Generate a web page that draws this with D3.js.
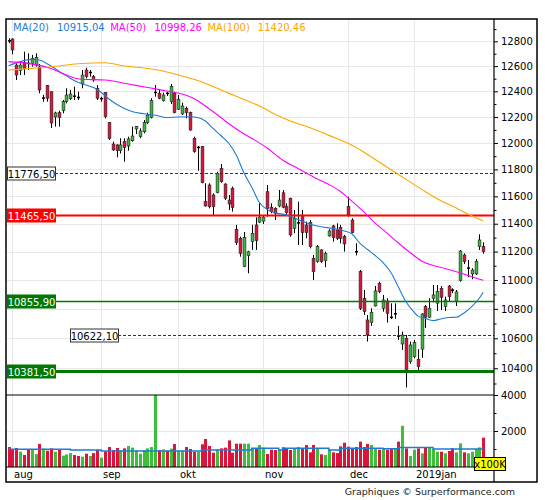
<!DOCTYPE html>
<html>
<head>
<meta charset="utf-8">
<script src="https://cdn.jsdelivr.net/npm/d3@7"></script>
<style>
  body { margin: 0; background: #fff; }
  svg { display: block; }
  text { font-family: "DejaVu Sans", Verdana, sans-serif; }
</style>
</head>
<body>
<svg id="chart" width="545" height="500"></svg>
<script>

// daily candles, 31 jul 2018 .. 28 jan 2019 (index 0..123)
var open_vals = [12806,12819,12609,12564,12628,12624,12623,12609,12593,12345,12445,12397,12200,12233,12249,12319,12342,12364,12354,12458,
  12569,12547,12516,12424,12341,12390,12156,11992,11985,11942,12010,11977,12017,12107,12048,12086,12156,12197,12389,12385,
  12327,12386,12319,12385,12260,12223,12267,12233,12036,11964,11972,11561,11684,11610,11627,11808,11691,11573,11660,11360,
  11295,11094,11171,11271,11391,11412,11419,11634,11520,11512,11529,11626,11524,11586,11367,11404,11451,11391,11408,11152,
  11129,11212,11136,11312,11384,11355,11374,11307,11524,11427,11201,11058,10873,10724,10706,10820,10977,10804,10854,10744,
  10764,10617,10562,10600,10444,10477,10460,10527,10815,10743,10873,10839,10942,10815,10958,10931,10850,10995,11176,11081,
  11042,11042,11235,11235];
var high_vals = [12825,12825,12623,12623,12716,12703,12690,12703,12617,12372,12450,12400,12241,12249,12332,12424,12411,12437,12397,12569,
  12588,12569,12529,12450,12358,12395,12160,12010,11990,12036,12036,12048,12125,12130,12112,12176,12233,12346,12450,12416,
  12390,12397,12458,12397,12371,12311,12280,12241,12048,11977,11977,11697,11697,11622,11783,11841,11697,11610,11672,11392,
  11307,11340,11206,11392,11446,11549,11456,11684,11549,11520,11647,11647,11549,11590,11500,11561,11500,11415,11427,11176,
  11247,11216,11200,11360,11392,11403,11392,11319,11597,11440,11259,11070,10930,10758,10804,10958,10988,10896,10873,10838,
  10838,10683,10645,10622,10578,10589,10527,10770,10827,10873,10965,10965,10958,10884,10965,10942,10930,11212,11188,11141,
  11082,11148,11324,11266];
var low_vals = [12785,12695,12490,12529,12529,12569,12596,12596,12385,12319,12319,12115,12125,12125,12228,12306,12332,12332,12332,12424,
  12503,12516,12476,12332,12319,12189,12023,11940,11891,11920,11858,11941,12010,12068,12036,12074,12145,12189,12358,12338,
  12319,12363,12301,12228,12254,12215,12189,12094,11926,11791,11697,11524,11512,11464,11622,11701,11573,11500,11488,11247,
  11164,11090,11047,11212,11212,11405,11398,11451,11476,11427,11520,11512,11464,11307,11331,11247,11247,11295,11223,11000,
  11121,11121,11090,11307,11271,11283,11259,11200,11451,11331,11173,10792,10759,10578,10684,10816,10908,10781,10706,10730,
  10732,10589,10522,10274,10430,10466,10384,10469,10670,10738,10844,10785,10792,10785,10850,10908,10820,10988,11112,11019,
  11005,11035,11212,11185];
var close_vals = [12804,12730,12529,12609,12583,12622,12663,12671,12411,12347,12346,12153,12231,12197,12319,12371,12379,12362,12352,12529,
  12516,12549,12490,12346,12343,12202,12036,11947,11942,11985,11967,12031,12053,12125,12092,12156,12215,12327,12391,12346,
  12371,12384,12437,12233,12338,12285,12233,12099,11934,11966,11701,11529,11524,11524,11771,11709,11586,11544,11519,11264,
  11188,11302,11199,11331,11278,11448,11448,11512,11488,11476,11573,11520,11481,11319,11440,11406,11336,11336,11235,11058,
  11235,11129,11188,11348,11300,11295,11295,11255,11464,11336,11199,10804,10781,10622,10777,10924,10919,10861,10770,10742,
  10766,10615,10622,10378,10555,10571,10411,10765,10743,10804,10896,10919,10880,10861,10884,10929,10917,11204,11129,11083,
  11070,11129,11283,11200];

// volume in units of 100K
var volume_vals = [1110,1000,1055,850,665,945,980,720,1275,1020,905,1035,850,960,630,700,775,665,610,575,
  740,610,775,960,520,870,1110,945,1055,925,1035,1165,1075,925,740,945,1035,1110,4000,945,
  980,905,1020,1275,905,905,1110,1000,850,850,1260,1555,1165,795,980,1035,1075,1480,795,1295,
  1295,1295,1295,1055,1055,1220,1075,720,960,945,945,1090,1055,945,1035,1110,1055,1220,815,1220,
  1000,705,665,960,815,775,1145,1350,1130,1035,1110,1410,1110,1280,1220,1000,960,1000,960,1000,
  1035,1410,2290,1035,610,960,1035,760,1110,1075,1000,850,850,760,890,1035,815,1315,815,760,
  850,1000,1090,1630];

// volume average (step line), [day index, value]
var vol_avg = [[0,980],[16,945],[24,890],[50,945],[63,1035],[70,945],[71,1035],[83,945],[86,1035],
  [97,1020],[101,1090],[110,1000],[123,1000]];

// moving averages, [day index, value]
var ma20 = [[0,12603],[3,12636],[6,12654],[8,12649],[10,12620],[12,12581],[14,12541],[17,12486],[20,12450],
  [23,12415],[26,12340],[29,12281],[32,12243],[35,12225],[38,12213],[41,12196],[44,12200],[47,12201],[49,12196],
  [51,12169],[53,12111],[55,12057],[57,12000],[59,11909],[61,11774],[63,11669],[65,11555],[67,11504],[69,11480],
  [72,11464],[75,11431],[78,11398],[81,11378],[84,11366],[87,11348],[89,11326],[91,11261],[93,11215],[95,11172],
  [97,11123],[99,11056],[101,10951],[103,10847],[105,10779],[106,10752],[108,10735],[110,10720],[112,10731],
  [114,10741],[116,10743],[118,10772],[120,10816],[122,10875],[123,10915.04]];
var ma50 = [[0,12636],[5,12622],[11,12582],[15,12529],[19,12495],[25,12490],[31,12458],[36,12430],[41,12403],
  [45,12379],[48,12344],[51,12285],[54,12219],[57,12149],[60,12088],[63,12036],[67,11962],[71,11871],[75,11807],
  [79,11744],[83,11688],[86,11636],[89,11563],[92,11488],[95,11405],[98,11334],[101,11261],[104,11194],[107,11134],
  [110,11102],[113,11081],[116,11058],[119,11032],[121,11014],[123,10998.26]];
var ma100 = [[0,12569],[6,12582],[12,12599],[19,12621],[25,12627],[30,12601],[35,12585],[40,12561],[45,12521],
  [49,12486],[53,12438],[57,12386],[61,12336],[65,12285],[70,12207],[73,12169],[78,12119],[83,12058],[88,11997],
  [92,11932],[96,11856],[100,11781],[104,11707],[108,11634],[112,11568],[116,11515],[119,11470],[121,11445],
  [123,11420.46]];

var ma_names = ["MA(20)", "MA(50)", "MA(100)"];
var ma_last = [10915.04, 10998.26, 11420.46];

// horizontal levels
var level_vals = [11776.5, 11465.5, 10855.9, 10622.1, 10381.5];

// axis ticks
var price_ticks = [10400,10600,10800,11000,11200,11400,11600,11800,12000,12200,12400,12600,12800];
var price_minor = [10300,10500,10700,10900,11100,11300,11500,11700,11900,12100,12300,12500,12700,12900];
var vol_ticks = [2000, 4000];
var vol_minor = [1000, 3000];
var month_labels = ["aug", "sep", "okt", "nov", "dec", "2019jan"];
var month_start = [1, 24, 44, 66, 88, 105];

// ---------------------------------------------------------------

var svg = d3.select("#chart");
var L = 6, T = 19, R = 537, B = 482, AX = 494, PB = 395, VB = 467;
var n = close_vals.length;
var idx = d3.range(n);

var fr = d3.formatLocale({decimal: ",", thousands: ".", grouping: [3], currency: ["", ""]});
var fmt2 = fr.format(".2f");

var x = d3.scaleLinear().domain([0, n - 1]).range([8.5, 483.3]);
var y = d3.scaleLog().domain([10225, 12983]).range([PB, T]);
var yv = d3.scaleLinear().domain([0, 4000]).range([VB, PB]);

var RED = "#dc143c", GREEN = "#3cb83c", BLUE = "#1c7cd5";
var ma_colors = [BLUE, "#ff00ff", "#ffa500"];
var GRID = "#e8e8e8";

function px(i) { return Math.round(x(i)); }
function up(i) { return close_vals[i] >= open_vals[i]; }

var defs = svg.append("defs");
defs.append("clipPath").attr("id", "clipP")
  .append("rect").attr("x", L).attr("y", T).attr("width", AX - L).attr("height", PB - T);
defs.append("clipPath").attr("id", "clipV")
  .append("rect").attr("x", L).attr("y", PB).attr("width", AX - L).attr("height", VB - PB);

// grid
var grid = svg.append("g");
grid.selectAll("line.hp").data(price_ticks).enter().append("line")
  .attr("x1", L).attr("x2", AX)
  .attr("y1", function(d) { return Math.round(y(d)) + 0.5; })
  .attr("y2", function(d) { return Math.round(y(d)) + 0.5; })
  .attr("stroke", GRID);
grid.selectAll("line.hv").data([2000]).enter().append("line")
  .attr("x1", L).attr("x2", AX)
  .attr("y1", function(d) { return Math.round(yv(d)) + 0.5; })
  .attr("y2", function(d) { return Math.round(yv(d)) + 0.5; })
  .attr("stroke", GRID);
grid.selectAll("line.vm").data(month_start).enter().append("line")
  .attr("x1", function(d) { return px(d) + 0.5; })
  .attr("x2", function(d) { return px(d) + 0.5; })
  .attr("y1", T).attr("y2", VB)
  .attr("stroke", GRID);

// candles
var cg = svg.append("g").attr("clip-path", "url(#clipP)");
cg.selectAll("line.wick").data(idx).enter().append("line")
  .attr("x1", function(i) { return px(i) + 0.5; })
  .attr("x2", function(i) { return px(i) + 0.5; })
  .attr("y1", function(i) { return y(high_vals[i]); })
  .attr("y2", function(i) { return y(low_vals[i]); })
  .attr("stroke", "#000").attr("stroke-width", 1);

var doji = idx.filter(function(i) { return Math.abs(y(open_vals[i]) - y(close_vals[i])) < 1; });
var bodies = idx.filter(function(i) { return doji.indexOf(i) < 0; });

cg.selectAll("rect.body").data(bodies).enter().append("rect")
  .attr("x", function(i) { return px(i) - 0.9; })
  .attr("width", 2.8)
  .attr("y", function(i) { return Math.min(y(open_vals[i]), y(close_vals[i])); })
  .attr("height", function(i) { return Math.abs(y(open_vals[i]) - y(close_vals[i])); })
  .attr("fill", function(i) { return up(i) ? GREEN : RED; })
  .attr("stroke", "#222").attr("stroke-width", 0.6);

cg.selectAll("line.doji").data(doji).enter().append("line")
  .attr("x1", function(i) { return px(i) - 1; })
  .attr("x2", function(i) { return px(i) + 2; })
  .attr("y1", function(i) { return y(close_vals[i]); })
  .attr("y2", function(i) { return y(close_vals[i]); })
  .attr("stroke", "#000").attr("stroke-width", 1.5);

// volume
var vg = svg.append("g").attr("clip-path", "url(#clipV)");
vg.selectAll("rect").data(idx).enter().append("rect")
  .attr("x", function(i) { return px(i) - 1; })
  .attr("width", 3)
  .attr("y", function(i) { return yv(volume_vals[i]); })
  .attr("height", function(i) { return VB - yv(volume_vals[i]); })
  .attr("fill", function(i) { return up(i) ? "#3cc03c" : RED; });

vg.append("path").datum(vol_avg)
  .attr("d", d3.line().x(function(d) { return x(d[0]); })
    .y(function(d) { return yv(d[1]); }).curve(d3.curveStepAfter))
  .attr("fill", "none").attr("stroke", BLUE).attr("stroke-width", 1.5);

// levels
var lg = svg.append("g").attr("clip-path", "url(#clipP)");
var level_style = [
  {stroke: "#333", width: 1, dash: "3,2", box: "#fff", border: "#333", text: "#000", bx: 7},
  {stroke: "#ff0000", width: 2, dash: null, box: "#ff0000", border: "#ff0000", text: "#fff", bx: 7},
  {stroke: "#007800", width: 1.5, dash: null, box: "#007800", border: "#007800", text: "#fff", bx: 7},
  {stroke: "#333", width: 1, dash: "3,2", box: "#fff", border: "#333", text: "#000", bx: 70},
  {stroke: "#007800", width: 3, dash: null, box: "#007800", border: "#007800", text: "#fff", bx: 7}
];
level_vals.forEach(function(v, k) {
  var s = level_style[k], yy = Math.round(y(v)) + 0.5;
  lg.append("line")
    .attr("x1", s.bx + 48).attr("x2", AX)
    .attr("y1", yy).attr("y2", yy)
    .attr("stroke", s.stroke).attr("stroke-width", s.width)
    .attr("stroke-dasharray", s.dash);
});

// moving averages
var maLine = d3.line()
  .x(function(d) { return x(d[0]); })
  .y(function(d) { return y(d[1]); })
  .curve(d3.curveMonotoneX);
var mg = svg.append("g").attr("clip-path", "url(#clipP)");
[ma20, ma50, ma100].forEach(function(series, k) {
  mg.append("path").datum(series)
    .attr("d", maLine)
    .attr("fill", "none")
    .attr("stroke", ma_colors[k])
    .attr("stroke-width", 1.1);
});

// level label boxes
level_vals.forEach(function(v, k) {
  var s = level_style[k], yy = Math.round(y(v)) + 0.5;
  var g = svg.append("g");
  g.append("rect")
    .attr("x", s.bx + 0.5).attr("y", yy - 6.5)
    .attr("width", 48).attr("height", 13)
    .attr("fill", s.box).attr("stroke", s.border).attr("stroke-width", 1);
  g.append("text")
    .attr("x", s.bx + 24.5).attr("y", yy + 4)
    .attr("text-anchor", "middle")
    .attr("font-size", 10)
    .attr("fill", s.text)
    .text(fmt2(v));
});

// right axes
function styleAxis(g) {
  g.select(".domain").remove();
  g.attr("font-family", "DejaVu Sans, Verdana, sans-serif").attr("font-size", 10);
  g.selectAll("text").attr("fill", "#000");
  g.selectAll("line").attr("stroke", "#000");
}
svg.append("g").attr("transform", "translate(" + AX + ",0)")
  .call(d3.axisRight(y).tickValues(price_ticks).tickSize(4).tickPadding(3).tickFormat(d3.format("d")))
  .call(styleAxis);
svg.append("g").attr("transform", "translate(" + AX + ",0)")
  .call(d3.axisRight(y).tickValues(price_minor).tickSize(2.5).tickFormat(""))
  .call(styleAxis);
svg.append("g").attr("transform", "translate(" + AX + ",0)")
  .call(d3.axisRight(yv).tickValues(vol_ticks).tickSize(4).tickPadding(3).tickFormat(d3.format("d")))
  .call(styleAxis);
svg.append("g").attr("transform", "translate(" + AX + ",0)")
  .call(d3.axisRight(yv).tickValues(vol_minor).tickSize(2.5).tickFormat(""))
  .call(styleAxis);

// frame
var fg = svg.append("g").attr("stroke", "#000").attr("fill", "none");
fg.append("rect").attr("x", L).attr("y", T).attr("width", R - L).attr("height", B - T).attr("stroke-width", 1.5);
fg.append("line").attr("x1", AX).attr("x2", AX).attr("y1", T).attr("y2", B).attr("stroke-width", 1.2);
fg.append("line").attr("x1", L).attr("x2", AX).attr("y1", PB).attr("y2", PB).attr("stroke-width", 1.2);
fg.append("line").attr("x1", L).attr("x2", AX).attr("y1", VB).attr("y2", VB).attr("stroke-width", 1.2);

// month labels
svg.selectAll("text.month").data(month_start).enter().append("text")
  .attr("x", function(d) { return px(d) + 2; })
  .attr("y", 478)
  .attr("font-size", 10)
  .attr("fill", "#000")
  .text(function(d, k) { return month_labels[k]; });

// x100K tag
svg.append("rect").attr("x", 474.5).attr("y", 457.5).attr("width", 31).attr("height", 13)
  .attr("fill", "#ffff00").attr("stroke", "#000").attr("stroke-width", 1);
svg.append("text").attr("x", 490).attr("y", 468).attr("text-anchor", "middle")
  .attr("font-size", 10).attr("fill", "#000").text("x100K");

// legend
var lx = 13;
ma_names.forEach(function(name, k) {
  var t1 = svg.append("text").attr("x", lx).attr("y", 30.5)
    .attr("font-size", 10).attr("fill", ma_colors[k]).text(name);
  lx += t1.node().getComputedTextLength() + 8;
  var t2 = svg.append("text").attr("x", lx).attr("y", 30.5)
    .attr("font-size", 10).attr("fill", ma_colors[k]).text(fmt2(ma_last[k]));
  lx += t2.node().getComputedTextLength() + 5.5;
});

// credit
svg.append("text").attr("x", 515).attr("y", 495)
  .attr("text-anchor", "end").attr("font-size", 9.5).attr("fill", "#222")
  .text("Graphiques \u00a9 Surperformance.com");

</script>
</body>
</html>
